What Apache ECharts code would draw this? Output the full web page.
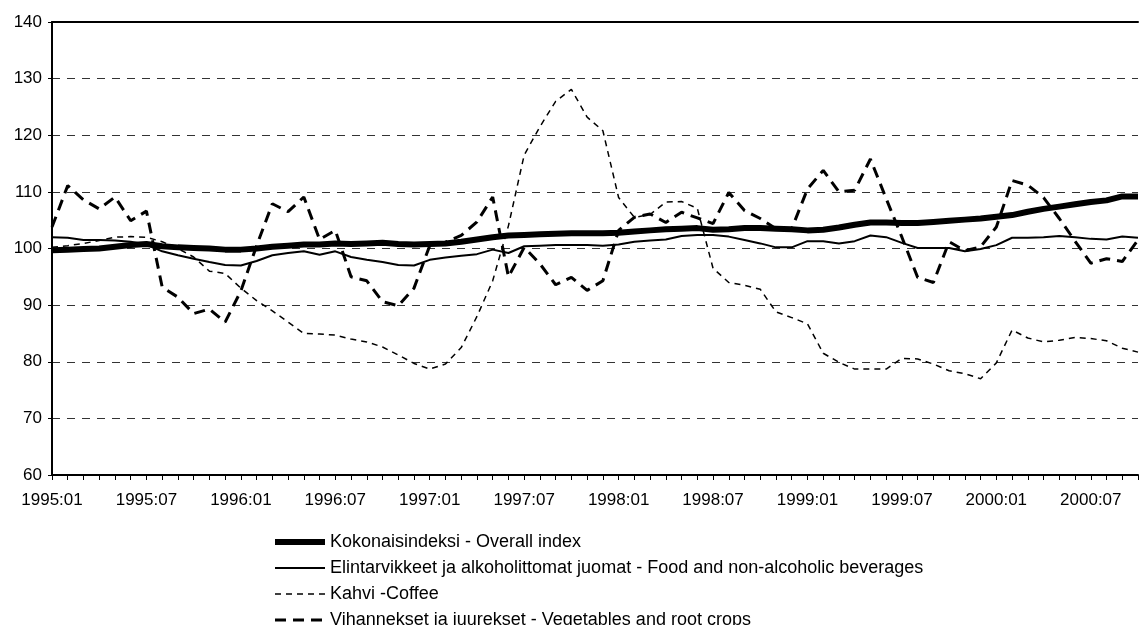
<!DOCTYPE html>
<html>
<head>
<meta charset="utf-8">
<script src="https://cdn.jsdelivr.net/npm/echarts@6/dist/echarts.min.js"></script>
<style>
  html, body { margin: 0; padding: 0; background: #fff; }
  #chart { width: 1141px; height: 625px; }
</style>
</head>
<body>
<div id="chart"></div>
<script>
// months 1995:01 .. 2000:10
var months = [
  '1995:01','1995:02','1995:03','1995:04','1995:05','1995:06','1995:07','1995:08','1995:09','1995:10','1995:11','1995:12',
  '1996:01','1996:02','1996:03','1996:04','1996:05','1996:06','1996:07','1996:08','1996:09','1996:10','1996:11','1996:12',
  '1997:01','1997:02','1997:03','1997:04','1997:05','1997:06','1997:07','1997:08','1997:09','1997:10','1997:11','1997:12',
  '1998:01','1998:02','1998:03','1998:04','1998:05','1998:06','1998:07','1998:08','1998:09','1998:10','1998:11','1998:12',
  '1999:01','1999:02','1999:03','1999:04','1999:05','1999:06','1999:07','1999:08','1999:09','1999:10','1999:11','1999:12',
  '2000:01','2000:02','2000:03','2000:04','2000:05','2000:06','2000:07','2000:08','2000:09','2000:10'
];

var seriesNames = [
  'Kokonaisindeksi - Overall index',
  'Elintarvikkeet ja alkoholittomat juomat - Food and non-alcoholic beverages',
  'Kahvi -Coffee',
  'Vihannekset ja juurekset - Vegetables and root crops'
];

var overall = [
  99.7, 99.8, 99.9, 100.0, 100.3, 100.6, 100.8, 100.4, 100.2, 100.1, 100.0, 99.8,
  99.8, 100.0, 100.3, 100.5, 100.7, 100.7, 100.9, 100.8, 100.9, 101.0, 100.8, 100.7,
  100.8, 100.9, 101.2, 101.6, 102.0, 102.3, 102.4, 102.5, 102.6, 102.7, 102.7, 102.7,
  102.8, 103.0, 103.2, 103.4, 103.5, 103.6, 103.3, 103.4, 103.6, 103.6, 103.5, 103.4,
  103.2, 103.3, 103.7, 104.2, 104.6, 104.6, 104.5, 104.5, 104.7, 104.9, 105.1, 105.3,
  105.6, 105.9, 106.5, 107.0, 107.4, 107.8, 108.2, 108.5, 109.2, 109.2
];

var food = [
  102.0, 101.9, 101.5, 101.5, 101.4, 101.2, 100.7, 99.5, 98.8, 98.2, 97.6, 97.1,
  97.0, 97.8, 98.8, 99.2, 99.5, 98.9, 99.5, 98.5, 98.0, 97.6, 97.1, 97.0,
  98.0, 98.4, 98.7, 99.0, 99.8, 99.2, 100.4, 100.5, 100.6, 100.6, 100.6, 100.5,
  100.7, 101.2, 101.4, 101.6, 102.2, 102.4, 102.4, 102.1, 101.5, 100.9, 100.2, 100.2,
  101.3, 101.3, 100.9, 101.3, 102.3, 102.0, 101.0, 100.1, 100.1, 100.1, 99.5, 99.9,
  100.6, 101.9, 101.9, 102.0, 102.2, 102.0, 101.7, 101.6, 102.1, 101.9
];

var coffee = [
  100.2, 100.5, 100.9, 101.4, 102.0, 102.1, 102.0, 101.2, 100.0, 98.5, 96.0, 95.6,
  93.0, 90.8, 89.0, 87.0, 85.0, 84.9, 84.7, 84.0, 83.5, 82.6, 81.2, 79.7,
  78.7, 79.6, 82.5, 88.0, 94.3, 104.0, 116.5, 121.5, 126.0, 128.1, 123.2, 120.8,
  109.0, 105.5, 106.0, 108.2, 108.3, 107.1, 96.5, 94.0, 93.5, 92.8, 88.8, 87.8,
  86.7, 81.5, 79.9, 78.7, 78.7, 78.7, 80.6, 80.5, 79.6, 78.4, 77.9, 77.0,
  79.8, 85.6, 84.2, 83.5, 83.8, 84.3, 84.1, 83.7, 82.4, 81.7
];

var vegetables = [
  103.8, 111.1, 108.6, 107.0, 109.1, 104.9, 106.6, 93.2, 91.4, 88.5, 89.3, 87.0,
  92.5, 100.5, 107.9, 106.5, 109.1, 101.6, 103.2, 95.0, 94.3, 90.6, 89.9, 93.0,
  100.5, 101.1, 102.3, 104.7, 109.1, 95.0, 100.2, 97.3, 93.6, 94.9, 92.6, 94.3,
  103.2, 105.5, 106.1, 104.6, 106.4, 105.4, 104.4, 109.9, 106.7, 105.3, 103.5, 103.5,
  110.5, 113.8, 110.0, 110.3, 115.8, 108.8, 102.0, 94.9, 94.0, 101.2, 99.6, 100.3,
  103.8, 112.0, 111.2, 109.0, 105.3, 101.3, 97.4, 98.2, 97.7, 101.5
];

var font = 'Liberation Sans, Arial, sans-serif';

// line look per series: width and dash
var widths = [6, 2, 1.5, 3];
var dashes = ['solid', 'solid', [6, 5], [11, 7]];

var chart = echarts.init(document.getElementById('chart'));

function lineSeries(i, data) {
  return {
    name: seriesNames[i],
    type: 'line',
    data: data,
    symbol: 'none',
    showSymbol: false,
    lineStyle: { color: '#000', width: widths[i], type: dashes[i] },
    itemStyle: { color: '#000' },
    emphasis: { disabled: true }
  };
}

chart.setOption({
  animation: false,
  backgroundColor: '#fff',
  grid: { left: 52, right: 3, top: 22, bottom: 150 },
  legend: {
    orient: 'vertical',
    left: 267,
    top: 528,
    height: 120,
    itemWidth: 50,
    itemHeight: 14,
    itemGap: 8,
    selectedMode: false,
    // hide the circle marker, keep only the line sample
    itemStyle: { color: 'rgba(0,0,0,0)', borderWidth: 0, opacity: 0 },
    textStyle: { color: '#000', fontSize: 18, lineHeight: 18, fontFamily: font },
    data: seriesNames.map(function (name, i) {
      return { name: name, lineStyle: { color: '#000', width: widths[i], type: dashes[i] } };
    })
  },
  xAxis: [{
    type: 'category',
    data: months,
    boundaryGap: false,
    axisLine: { lineStyle: { color: '#000', width: 2 } },
    axisTick: { interval: 0, length: 5, lineStyle: { color: '#000' } },
    axisLabel: { interval: 5, color: '#000', fontSize: 17, fontFamily: font, margin: 17 },
    splitLine: { show: false }
  }, {
    type: 'category',
    data: months,
    boundaryGap: false,
    position: 'top',
    axisLine: { lineStyle: { color: '#000', width: 2 } },
    axisTick: { show: false },
    axisLabel: { show: false },
    splitLine: { show: false }
  }],
  yAxis: {
    type: 'value',
    min: 60,
    max: 140,
    interval: 10,
    axisLine: { show: true, lineStyle: { color: '#000', width: 2 } },
    axisTick: { show: true, length: 4, lineStyle: { color: '#000' } },
    axisLabel: { color: '#000', fontSize: 17, fontFamily: font, margin: 10 },
    splitLine: { lineStyle: { color: '#333', width: 1, type: [8, 7] } }
  },
  series: [
    lineSeries(0, overall),
    lineSeries(1, food),
    lineSeries(2, coffee),
    lineSeries(3, vegetables)
  ]
});
</script>
</body>
</html>
